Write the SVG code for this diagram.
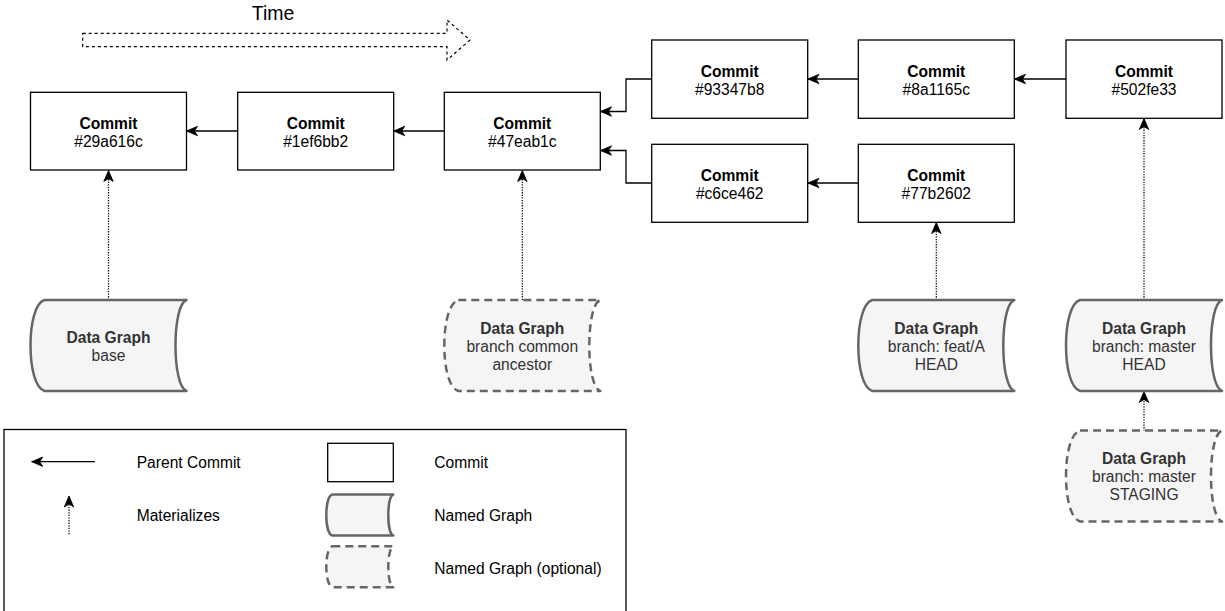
<svg xmlns="http://www.w3.org/2000/svg" width="1225" height="611" viewBox="0 0 1225 611">
<defs>
<style>
.commit rect{fill:#fff;stroke:#000;stroke-width:1.3}
.t{font-family:"Liberation Sans",Arial,Helvetica,sans-serif;font-size:15.6px;fill:#000}
.c{text-anchor:middle}
.b{font-weight:bold}
.g{fill:#333}
.dg{fill:#f5f5f5;stroke:#666;stroke-width:2.5;stroke-linejoin:round}
.dash{stroke-dasharray:8 5}
.edge{fill:none;stroke:#000;stroke-width:1.3}
.dot{fill:none;stroke:#000;stroke-width:1.2;stroke-dasharray:1.3 1.3}
</style>
<marker id="ah" markerUnits="userSpaceOnUse" markerWidth="14" markerHeight="12" viewBox="-12 -6 14 12" refX="0" refY="0" orient="auto">
<path d="M0,0 L-11,-4.7 L-8,0 L-11,4.7 Z" fill="#000" stroke="#000" stroke-width="0.8" stroke-linejoin="miter"/>
</marker>
<path id="dgs" d="M14,0 L156,0 C148.85,2.7 145,22.75 145,45.5 C145,68.25 148.85,88.3 156,91 L14,91 C4.9,88.3 0,68.25 0,45.5 C0,22.75 4.9,2.7 14,0 Z"/>
<path id="dgl" d="M6,0 L67,0 C63.75,1.2 62,10 62,20.5 C62,31 63.75,39.8 67,41 L6,41 C2.1,39.8 0,31 0,20.5 C0,10 2.1,1.2 6,0 Z"/>
</defs>
<rect width="1225" height="611" fill="#fff"/>

<g id="time">
<text class="t c" x="273" y="20" style="font-size:19.5px">Time</text>
<path d="M82.7,33.3 L447,33.3 L447,20 L470,40 L447,60 L447,46.7 L82.7,46.7 Z" fill="#fff" stroke="#000" stroke-width="1.2" stroke-dasharray="3 3"/>
</g>

<g id="connectors">
<line class="edge" x1="237.7" y1="131" x2="186.5" y2="131" marker-end="url(#ah)"/>
<line class="edge" x1="444.3" y1="131" x2="393.7" y2="131" marker-end="url(#ah)"/>
<polyline class="edge" points="651.7,79 626,79 626,111.5 600.5,111.5" marker-end="url(#ah)"/>
<polyline class="edge" points="651.7,183 626,183 626,150.5 600.5,150.5" marker-end="url(#ah)"/>
<line class="edge" x1="858.3" y1="79" x2="808" y2="79" marker-end="url(#ah)"/>
<line class="edge" x1="858.3" y1="183" x2="808" y2="183" marker-end="url(#ah)"/>
<line class="edge" x1="1066" y1="79" x2="1014.5" y2="79" marker-end="url(#ah)"/>
<line class="dot" x1="108.5" y1="300" x2="108.5" y2="170.5" marker-end="url(#ah)"/>
<line class="dot" x1="522.3" y1="300" x2="522.3" y2="170.5" marker-end="url(#ah)"/>
<line class="dot" x1="936.3" y1="300" x2="936.3" y2="222.5" marker-end="url(#ah)"/>
<line class="dot" x1="1144" y1="300" x2="1144" y2="118.5" marker-end="url(#ah)"/>
<line class="dot" x1="1144" y1="431" x2="1144" y2="391.5" marker-end="url(#ah)"/>
</g>

<g id="commit-29a616c" class="commit">
<rect x="30.5" y="92.3" width="156" height="77.7"/>
<text class="t c b" x="108.5" y="128.7">Commit</text>
<text class="t c" x="108.5" y="146.5">#29a616c</text>
</g>
<g id="commit-1ef6bb2" class="commit">
<rect x="237.7" y="92.3" width="156" height="77.7"/>
<text class="t c b" x="315.7" y="128.7">Commit</text>
<text class="t c" x="315.7" y="146.5">#1ef6bb2</text>
</g>
<g id="commit-47eab1c" class="commit">
<rect x="444.3" y="92.3" width="156" height="77.7"/>
<text class="t c b" x="522.3" y="128.7">Commit</text>
<text class="t c" x="522.3" y="146.5">#47eab1c</text>
</g>
<g id="commit-93347b8" class="commit">
<rect x="651.7" y="40" width="156" height="78.3"/>
<text class="t c b" x="729.7" y="76.7">Commit</text>
<text class="t c" x="729.7" y="94.5">#93347b8</text>
</g>
<g id="commit-c6ce462" class="commit">
<rect x="651.7" y="144.3" width="156" height="78"/>
<text class="t c b" x="729.7" y="181">Commit</text>
<text class="t c" x="729.7" y="198.8">#c6ce462</text>
</g>
<g id="commit-8a1165c" class="commit">
<rect x="858.3" y="40" width="156" height="78.3"/>
<text class="t c b" x="936.3" y="76.7">Commit</text>
<text class="t c" x="936.3" y="94.5">#8a1165c</text>
</g>
<g id="commit-77b2602" class="commit">
<rect x="858.3" y="144.3" width="156" height="78"/>
<text class="t c b" x="936.3" y="181">Commit</text>
<text class="t c" x="936.3" y="198.8">#77b2602</text>
</g>
<g id="commit-502fe33" class="commit">
<rect x="1066" y="40" width="156" height="78.3"/>
<text class="t c b" x="1144" y="76.7">Commit</text>
<text class="t c" x="1144" y="94.5">#502fe33</text>
</g>

<g id="graph-base">
<use href="#dgs" class="dg" x="30.5" y="300"/>
<text class="t c b g" x="108.5" y="342.5">Data Graph</text>
<text class="t c g" x="108.5" y="360.5">base</text>
</g>
<g id="graph-common-ancestor">
<use href="#dgs" class="dg dash" x="444.3" y="300"/>
<text class="t c b g" x="522.3" y="333.5">Data Graph</text>
<text class="t c g" x="522.3" y="351.5">branch common</text>
<text class="t c g" x="522.3" y="369.5">ancestor</text>
</g>
<g id="graph-feat-a-head">
<use href="#dgs" class="dg" x="858.3" y="300"/>
<text class="t c b g" x="936.3" y="333.5">Data Graph</text>
<text class="t c g" x="936.3" y="351.5">branch: feat/A</text>
<text class="t c g" x="936.3" y="369.5">HEAD</text>
</g>
<g id="graph-master-head">
<use href="#dgs" class="dg" x="1066" y="300"/>
<text class="t c b g" x="1144" y="333.5">Data Graph</text>
<text class="t c g" x="1144" y="351.5">branch: master</text>
<text class="t c g" x="1144" y="369.5">HEAD</text>
</g>
<g id="graph-master-staging">
<use href="#dgs" class="dg dash" x="1066" y="430.5"/>
<text class="t c b g" x="1144" y="464">Data Graph</text>
<text class="t c g" x="1144" y="482">branch: master</text>
<text class="t c g" x="1144" y="500">STAGING</text>
</g>

<g id="legend">
<rect x="4" y="429.5" width="622" height="200" fill="#fff" stroke="#000" stroke-width="1.3"/>
<line class="edge" x1="95" y1="461.7" x2="31.7" y2="461.7" marker-end="url(#ah)"/>
<text class="t" x="136.7" y="468.3">Parent Commit</text>
<line class="dot" x1="69" y1="534.3" x2="69" y2="496" marker-end="url(#ah)"/>
<text class="t" x="136.7" y="520.7">Materializes</text>
<rect x="327.7" y="443.3" width="65.6" height="38.4" fill="#fff" stroke="#000" stroke-width="1.3"/>
<text class="t" x="434.3" y="468.3">Commit</text>
<use href="#dgl" class="dg" x="326.3" y="494.5"/>
<text class="t" x="434.3" y="520.7">Named Graph</text>
<use href="#dgl" class="dg dash" x="326.3" y="546.3"/>
<text class="t" x="434.3" y="574">Named Graph (optional)</text>
</g>
</svg>
